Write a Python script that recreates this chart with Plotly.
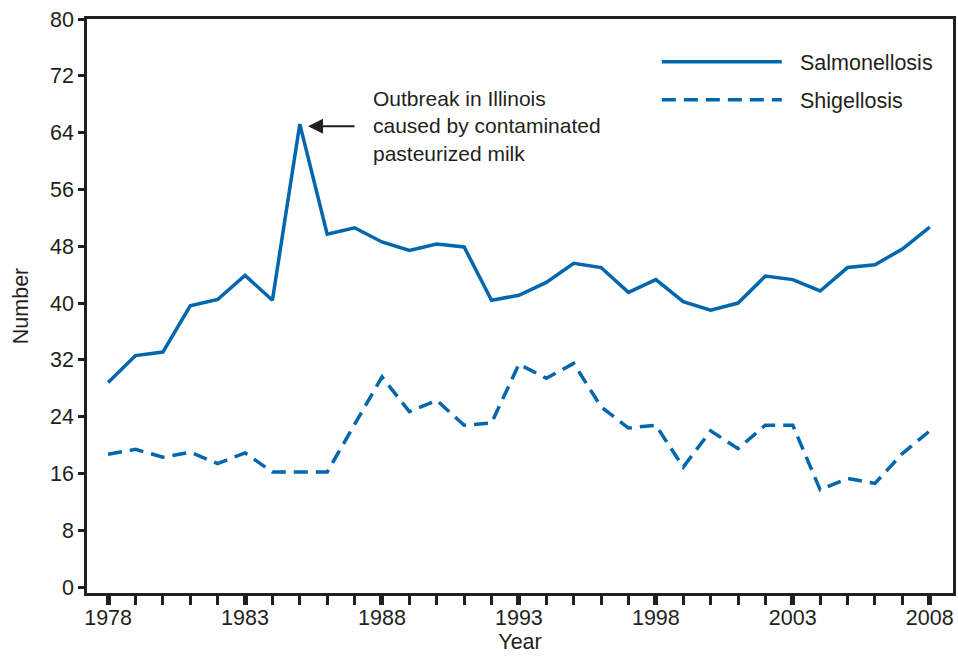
import plotly.graph_objects as go

years = list(range(1978, 2009))
salmonellosis = [28.8, 32.6, 33.1, 39.6, 40.5, 43.9, 40.4, 65.2, 49.7, 50.6,
                 48.6, 47.4, 48.3, 47.9, 40.4, 41.1, 42.9, 45.6, 45.0, 41.5,
                 43.3, 40.2, 39.0, 40.0, 43.8, 43.3, 41.7, 45.0, 45.4, 47.6, 50.7]
shigellosis = [18.7, 19.4, 18.3, 19.0, 17.4, 18.9, 16.2, 16.2, 16.2, 22.9,
               29.6, 24.7, 26.3, 22.8, 23.1, 31.4, 29.4, 31.5, 25.4, 22.4,
               22.8, 16.9, 22.0, 19.5, 22.8, 22.8, 13.7, 15.3, 14.6, 18.8, 22.0]
y_ticks = [0, 8, 16, 24, 32, 40, 48, 56, 64, 72, 80]
x_ticks = [1978, 1983, 1988, 1993, 1998, 2003, 2008]

BLUE = "#0066AE"
INK = "#231f20"
FONT = "Liberation Sans, Arial, Helvetica, sans-serif"
FS = 21.5

fig = go.Figure()
fig.add_trace(go.Scatter(x=years, y=salmonellosis, mode="lines", name="Salmonellosis",
                         line=dict(color=BLUE, width=3.5)))
fig.add_trace(go.Scatter(x=years, y=shigellosis, mode="lines", name="Shigellosis",
                         line=dict(color=BLUE, width=3.5, dash="14px,8px")))

# Legend drawn manually (long sample lines as in the reference)
fig.add_shape(type="line", xref="paper", yref="paper", x0=0.6638, x1=0.8023, y0=0.9255, y1=0.9255,
              line=dict(color=BLUE, width=3.5))
fig.add_shape(type="line", xref="paper", yref="paper", x0=0.6638, x1=0.8023, y0=0.8592, y1=0.8592,
              line=dict(color=BLUE, width=3.5, dash="14px,8px"))
fig.add_annotation(xref="paper", yref="paper", x=0.8205, y=0.9229, xanchor="left", yanchor="middle",
                   text="Salmonellosis", showarrow=False, font=dict(size=FS, color=INK, family=FONT))
fig.add_annotation(xref="paper", yref="paper", x=0.8205, y=0.8563, xanchor="left", yanchor="middle",
                   text="Shigellosis", showarrow=False, font=dict(size=FS, color=INK, family=FONT))

# Outbreak annotation
fig.add_annotation(x=1985.3, y=64.9, xref="x", yref="y", text="", showarrow=True,
                   ax=48, ay=0, arrowhead=2, arrowsize=1.5, arrowwidth=2, arrowcolor=INK)
fig.add_annotation(xref="paper", yref="y", x=0.328, y=64.97, xanchor="left", yanchor="middle",
                   align="left", showarrow=False,
                   text="Outbreak in Illinois<br>caused by contaminated<br>pasteurized milk",
                   font=dict(size=21, color=INK, family=FONT))

fig.update_xaxes(range=[1977.23, 2008.85], tickmode="array", tickvals=x_ticks,
                 ticktext=[str(v) for v in x_ticks],
                 ticks="outside", ticklen=9, tickwidth=4.5, tickcolor=INK,
                 minor=dict(dtick=1, tick0=1978, ticks="outside", ticklen=9, tickwidth=3, tickcolor=INK),
                 showline=True, linecolor=INK, linewidth=2.5, mirror=True,
                 showgrid=False, zeroline=False, ticklabeloverflow="allow", ticklabelstandoff=-6,
                 tickfont=dict(size=FS, color=INK, family=FONT),
                 title=dict(text="Year", font=dict(size=FS, color=INK, family=FONT), standoff=6))
fig.update_yaxes(range=[-0.83, 80], tickmode="array", tickvals=y_ticks,
                 ticks="outside", ticklen=6, tickwidth=2.5, tickcolor=INK,
                 showline=True, linecolor=INK, linewidth=2.5, mirror=True,
                 showgrid=False, zeroline=False, ticklabeloverflow="allow", ticklabelstandoff=0,
                 tickfont=dict(size=FS, color=INK, family=FONT),
                 title=dict(text="Number", font=dict(size=FS, color=INK, family=FONT), standoff=16))

fig.update_layout(width=958, height=657, showlegend=False,
                  margin=dict(l=87, r=5, t=19, b=64, autoexpand=False),
                  plot_bgcolor="white", paper_bgcolor="white",
                  font=dict(family=FONT, color=INK))

# remove the default 8px page margin so the figure fills the window exactly
fig.write_html("out.html", config={"displayModeBar": False},
               post_script="document.body.style.margin='0';document.body.style.overflow='hidden';")
